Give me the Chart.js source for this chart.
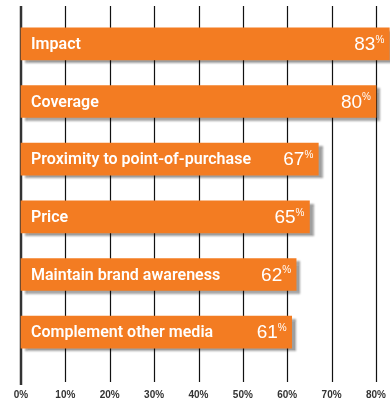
<!DOCTYPE html>
<html>
<head>
<meta charset="utf-8">
<script src="https://cdn.jsdelivr.net/npm/chart.js@4/dist/chart.umd.min.js"></script>
<style>
  html, body { margin: 0; padding: 0; background: #fff; }
  #wrap { width: 390px; height: 398px; position: relative; }
</style>
</head>
<body>
<div id="wrap"><canvas id="reasons-chart"></canvas></div>
<script>
  // Reasons for choosing the medium, share of respondents (%)
  const categories = [
    'Impact',
    'Coverage',
    'Proximity to point-of-purchase',
    'Price',
    'Maintain brand awareness',
    'Complement other media'
  ];
  const values = [83, 80, 67, 65, 62, 61];
  const tickValues = [0, 10, 20, 30, 40, 50, 60, 70, 80];

  const barColor = '#F37C22';
  const labelFont = '600 17px Roboto, "Liberation Sans", sans-serif';

  // vertical rules behind the bars, running a bit past the plot area
  const ruleLines = {
    id: 'ruleLines',
    beforeDatasetsDraw(chart) {
      const { ctx, scales: { x } } = chart;
      ctx.save();
      tickValues.forEach(function (v) {
        const px = Math.round(x.getPixelForValue(v));
        if (v === 0) {
          ctx.strokeStyle = '#333';
          ctx.lineWidth = 2.5;
          ctx.beginPath();
          ctx.moveTo(px, 6);
          ctx.lineTo(px, 385);
          ctx.stroke();
        } else {
          ctx.strokeStyle = '#111';
          ctx.lineWidth = 1.2;
          ctx.beginPath();
          ctx.moveTo(px + 0.5, 6);
          ctx.lineTo(px + 0.5, 382);
          ctx.stroke();
        }
      });
      ctx.restore();
    }
  };

  // soft drop shadow under each bar
  const barShadow = {
    id: 'barShadow',
    beforeDatasetDraw(chart) {
      const ctx = chart.ctx;
      ctx.save();
      ctx.shadowColor = 'rgba(0, 0, 0, 0.38)';
      ctx.shadowOffsetX = 4;
      ctx.shadowOffsetY = 3;
      ctx.shadowBlur = 2;
    },
    afterDatasetDraw(chart) {
      chart.ctx.restore();
    }
  };

  // category name at the left end, value at the right end of each bar
  const barText = {
    id: 'barText',
    afterDatasetsDraw(chart) {
      const ctx = chart.ctx;
      const meta = chart.getDatasetMeta(0);
      ctx.save();
      ctx.fillStyle = '#fff';
      ctx.textBaseline = 'middle';

      // squeeze the label face a little so the longest name spans ~220px
      ctx.font = labelFont;
      const squeeze = Math.min(1, 220 / ctx.measureText(categories[2]).width);

      meta.data.forEach(function (bar, i) {
        ctx.font = labelFont;
        ctx.textAlign = 'left';
        ctx.save();
        ctx.translate(bar.base + 10, bar.y + 1);
        ctx.scale(squeeze, 1);
        ctx.fillText(categories[i], 0, 0);
        ctx.restore();

        const right = bar.x - 5;
        ctx.font = '10px "Liberation Sans", sans-serif';
        ctx.textAlign = 'right';
        const pctW = ctx.measureText('%').width;
        ctx.fillText('%', right, bar.y - 4);
        ctx.font = '19px "Liberation Sans", sans-serif';
        ctx.fillText(String(values[i]), right - pctW, bar.y + 1);
      });
      ctx.restore();
    }
  };

  const ctx = document.getElementById('reasons-chart').getContext('2d');
  new Chart(ctx, {
    type: 'bar',
    data: {
      labels: categories,
      datasets: [{
        data: values,
        backgroundColor: barColor,
        borderWidth: 0,
        barThickness: 32,
        clip: false
      }]
    },
    options: {
      indexAxis: 'y',
      responsive: true,
      maintainAspectRatio: false,
      animation: false,
      layout: {
        padding: { left: 21, right: 14, top: 15, bottom: 0 }
      },
      scales: {
        x: {
          min: 0,
          max: 80,
          grid: { display: false },
          border: { display: false },
          afterBuildTicks(axis) {
            axis.ticks = tickValues.map(v => ({ value: v }));
          },
          afterFit(axis) {
            axis.height = 37;
            axis.paddingLeft = 0;
            axis.paddingRight = 0;
          },
          ticks: {
            padding: 20,
            maxRotation: 0,
            autoSkip: false,
            color: '#333',
            font: { family: '"Liberation Sans", sans-serif', size: 10, weight: 'bold' },
            callback: v => v + '%'
          }
        },
        y: {
          display: false,
          offset: true
        }
      },
      plugins: {
        legend: { display: false },
        tooltip: { enabled: false }
      }
    },
    plugins: [ruleLines, barShadow, barText]
  });
</script>
</body>
</html>
